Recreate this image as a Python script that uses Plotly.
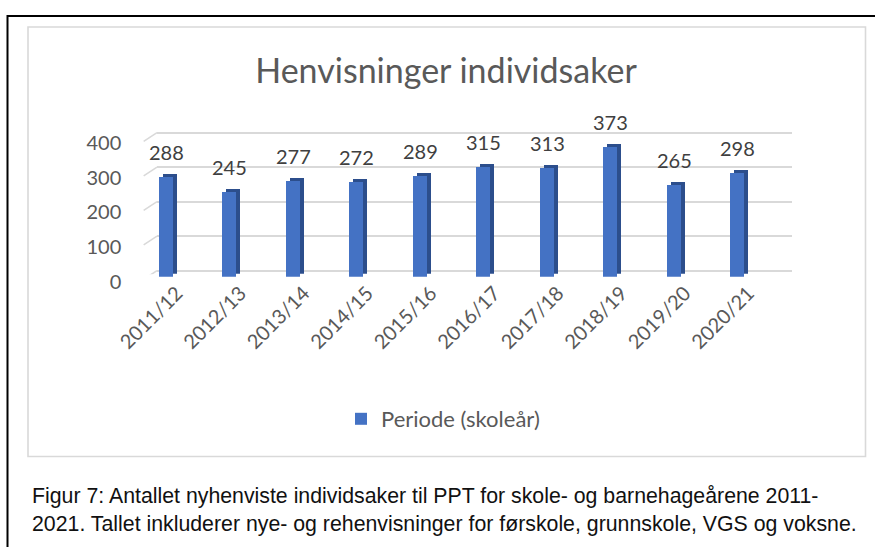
import plotly.graph_objects as go

# ---- data ----
periods = ["2011/12", "2012/13", "2013/14", "2014/15", "2015/16",
           "2016/17", "2017/18", "2018/19", "2019/20", "2020/21"]
cases = [288, 245, 277, 272, 289, 315, 313, 373, 265, 298]
y_ticks = [0, 100, 200, 300, 400]
series_name = "Periode (skoleår)"
title_text = "Henvisninger individsaker"
caption_text = ("Figur 7: Antallet nyhenviste individsaker til PPT for skole- og barnehageårene 2011-<br>"
                "2021. Tallet inkluderer nye- og rehenvisninger for førskole, grunnskole, VGS og voksne.")

W, H = 875, 547
FRONT = "#4472C4"
SIDE = "#2C4E8C"
GRID = "#D9D9D9"
TXT = "#595959"
FONT = "Lato"


def px(x):
    return x / W


def py(y):
    return 1 - y / H


YMAX = 420
# front plane (bars): zero at y=276.7, 0.347 px per unit
f_left, f_right = 134.25, 769.25
f_zero, f_scale = 276.7, 0.347
# back plane (gridlines)
g_left, g_right = 157.0, 792.0
g_zero, g_scale = 270.7, 0.345
g_min = -10
# depth face offset
dx, dy = 4, 3

fig = go.Figure()

# subplot 1: back wall gridlines (invisible carrier trace)
fig.add_trace(go.Scatter(x=periods, y=cases, xaxis="x", yaxis="y", mode="markers",
                         marker=dict(opacity=0), hoverinfo="skip", showlegend=False))
# subplot 2: dark depth faces
fig.add_trace(go.Bar(x=periods, y=cases, xaxis="x2", yaxis="y2", marker_color=SIDE,
                     width=0.22, hoverinfo="skip", showlegend=False, marker_line_width=0))
# subplot 3: front faces
fig.add_trace(go.Bar(x=periods, y=cases, xaxis="x3", yaxis="y3", marker_color=FRONT,
                     width=0.22, name=series_name, showlegend=True, marker_line_width=0))

cat_range = [-0.5, len(periods) - 0.5]

layout = dict(
    width=W, height=H, autosize=False,
    margin=dict(l=0, r=0, t=0, b=0, pad=0, autoexpand=False),
    paper_bgcolor="white", plot_bgcolor="rgba(0,0,0,0)",
    bargap=0,
    title=dict(text=title_text, x=px(446), xanchor="center", y=py(71), yanchor="middle",
               font=dict(family=FONT, size=34, color=TXT)),
    xaxis=dict(domain=[px(g_left), px(g_right)], range=cat_range, type="category",
               visible=False, anchor="y", automargin=False),
    yaxis=dict(domain=[py(g_zero - g_scale * g_min), py(g_zero - g_scale * YMAX)],
               range=[g_min, YMAX], anchor="x", showgrid=True, gridcolor=GRID, gridwidth=1.6,
               tickvals=y_ticks, showticklabels=False, zeroline=False, showline=False, ticks="",
               automargin=False),
    xaxis2=dict(domain=[px(f_left + dx), px(f_right + dx)], range=cat_range, type="category",
                visible=False, anchor="y2", automargin=False),
    yaxis2=dict(domain=[py(f_zero - dy), py(f_zero - dy - f_scale * YMAX)], range=[0, YMAX],
                visible=False, anchor="x2", automargin=False),
    xaxis3=dict(domain=[px(f_left), px(f_right)], range=cat_range, type="category",
                anchor="y3", showgrid=False, zeroline=False, showline=False, ticks="",
                tickangle=-45, ticklabelshift=11,
                tickfont=dict(family=FONT, size=20, color=TXT), automargin=False),
    yaxis3=dict(domain=[py(f_zero), py(f_zero - f_scale * YMAX)], range=[0, YMAX],
                anchor="x3", showgrid=False, zeroline=False, showline=False, ticks="",
                tickvals=y_ticks, ticklabelshift=5, ticklabelstandoff=12,
                tickfont=dict(family=FONT, size=20, color=TXT), automargin=False),
    legend=dict(orientation="h", x=px(443), xanchor="center", y=py(419), yanchor="middle",
                font=dict(family=FONT, size=22, color=TXT), bgcolor="rgba(0,0,0,0)"),
    showlegend=True,
)
fig.update_layout(**layout)

# data labels
for p, v in zip(periods, cases):
    fig.add_annotation(x=p, y=v, xref="x3", yref="y3", text=str(v), showarrow=False,
                       yanchor="middle", yshift=25,
                       font=dict(family=FONT, size=20, color="#404040"))

# diagonal stubs at left end of each gridline (floor/wall perspective)
for t in y_ticks:
    fig.add_shape(type="line", xref="x domain", yref="y", x0=-0.021, x1=0, y0=t - 25, y1=t,
                  line=dict(color=GRID, width=1.6))

# caption
fig.add_annotation(xref="paper", yref="paper", x=px(30), y=py(510), xanchor="left",
                   yanchor="middle", align="left", showarrow=False, text=caption_text,
                   font=dict(family="Liberation Sans", size=21.3, color="#111111"))

# chart area border and outer frame
fig.add_shape(type="rect", xref="paper", yref="paper", x0=px(28), x1=px(865.5),
              y0=py(456.5), y1=py(27), line=dict(color=GRID, width=1.6), layer="below")
fig.add_shape(type="path", xref="paper", yref="paper",
              path=f"M {px(7.5)} -0.01 L {px(7.5)} {py(16)} L 1.01 {py(16)}",
              line=dict(color="black", width=2))

fig.write_html("out.html", config={"displayModeBar": False},
               post_script="document.body.style.margin='0';document.body.style.overflow='hidden';")
